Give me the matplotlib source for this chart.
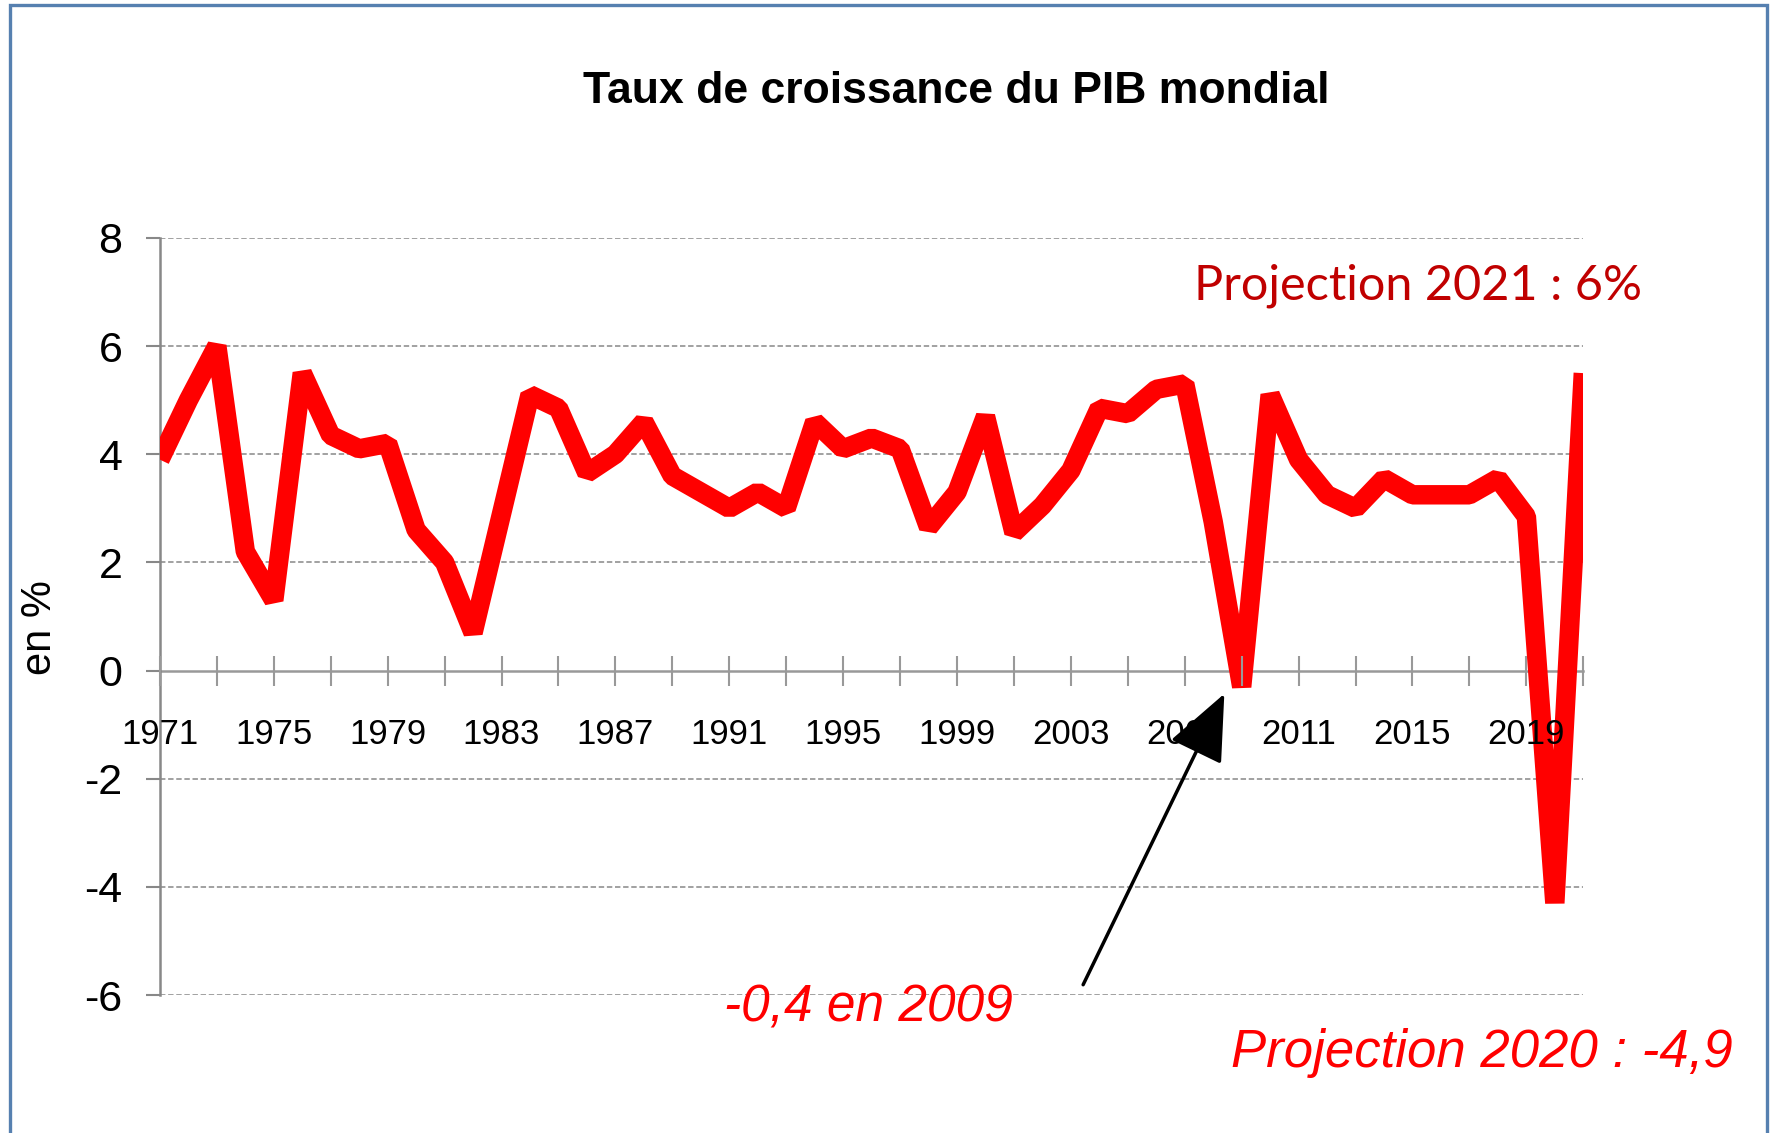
import matplotlib.pyplot as plt
from matplotlib.patches import Rectangle, FancyArrowPatch

# --- Data ---
years = list(range(1971, 2022))
growth = [3.9, 5.0, 6.0, 2.2, 1.3, 5.5, 4.35, 4.1, 4.2, 2.6,
          2.0, 0.7, 2.9, 5.1, 4.85, 3.65, 4.0, 4.6, 3.6, 3.3,
          3.0, 3.3, 3.0, 4.6, 4.1, 4.3, 4.1, 2.65, 3.3, 4.7,
          2.55, 3.05, 3.7, 4.85, 4.75, 5.2, 5.3, 2.75, -0.3, 5.1,
          3.9, 3.25, 3.0, 3.55, 3.25, 3.25, 3.25, 3.55, 2.85, -4.3, 5.5]

yticks = [8, 6, 4, 2, 0, -2, -4, -6]
xtick_years = list(range(1971, 2022, 2))
xlabel_years = list(range(1971, 2020, 4))

title = 'Taux de croissance du PIB mondial'
ylabel = 'en %'
note_2009 = '-0,4 en 2009'
note_2020 = 'Projection 2020 : -4,9'
note_2021 = 'Projection 2021 : 6%'

plt.rcParams['font.family'] = ['Liberation Sans', 'DejaVu Sans']

# --- Figure ---
fig = plt.figure(figsize=(17.75, 11.33), dpi=100)
ax = fig.add_axes([0.0901, 0.1218, 0.8019, 0.6682])

ax.plot(years, growth, color='#FF0000', linewidth=14,
        solid_joinstyle='bevel', solid_capstyle='butt', zorder=3)

ax.set_xlim(1971, 2021)
ax.set_ylim(-6, 8)

# grid lines
for v in yticks:
    if v != 0:
        ax.axhline(v, color='#9a9a9a', linewidth=1.3, linestyle=(0, (3, 1.5)), zorder=1)

# axes styling
for side in ['top', 'right']:
    ax.spines[side].set_visible(False)
ax.spines['bottom'].set_position(('data', 0))
ax.spines['bottom'].set_color('#999999')
ax.spines['bottom'].set_linewidth(1.8)
ax.spines['bottom'].set_zorder(2)
ax.spines['left'].set_color('#888888')
ax.spines['left'].set_linewidth(1.8)

ax.set_yticks(yticks)
ax.set_yticklabels([str(v) for v in yticks], fontsize=31)
ax.tick_params(axis='y', direction='out', length=10, width=1.5, color='#888888', pad=17)

ax.set_xticks(xtick_years)
ax.set_xticklabels([str(y) if y in xlabel_years else '' for y in xtick_years], fontsize=25)
ax.tick_params(axis='x', direction='inout', length=22, width=1.5, color='#999999', pad=23)
ax.xaxis.set_zorder(4)  # year labels sit on top of the red line

# title and axis label
fig.text(0.539, 0.919, title, ha='center', va='center', fontsize=32, fontweight='bold')
fig.text(0.0225, 0.446, ylabel, rotation=90, ha='center', va='center', fontsize=30)

# annotations
arrow = FancyArrowPatch((2003.43, -5.81), (2008.39, -0.43),
                        arrowstyle='-|>,head_length=2.1,head_width=0.9',
                        color='black', linewidth=2.5, mutation_scale=20, zorder=5,
                        shrinkA=0, shrinkB=0)
ax.add_patch(arrow)
fig.text(0.489, 0.110, note_2009, ha='center', va='center', fontsize=37,
         style='italic', color='#FF0000')
fig.text(0.835, 0.071, note_2020, ha='center', va='center', fontsize=38,
         style='italic', color='#FF0000')
fig.text(0.799, 0.748, note_2021, ha='center', va='center', fontsize=35,
         color='#C00000', family=['Lato', 'DejaVu Sans'])

# frame around the slide
fig.patches.append(Rectangle((0.0056, -0.02), 0.99, 1.0156, transform=fig.transFigure,
                             fill=False, edgecolor='#5680B0', linewidth=2.4))

fig.savefig('out.png', dpi=100)
